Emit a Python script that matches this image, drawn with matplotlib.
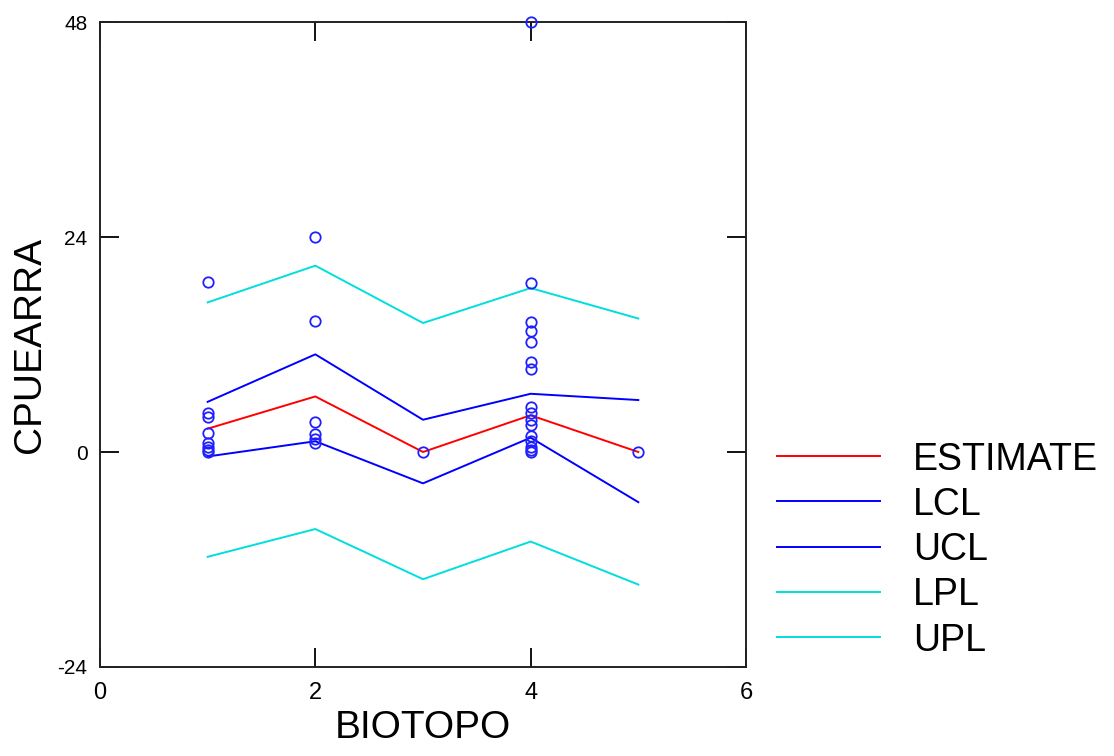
import matplotlib
matplotlib.use("Agg")
import matplotlib.pyplot as plt
from matplotlib.lines import Line2D

plt.rcParams['font.family'] = ['Liberation Sans', 'DejaVu Sans']
plt.rcParams['axes.unicode_minus'] = False

# fitted lines per biotopo
biotopo = [1, 2, 3, 4, 5]
estimate = [2.6, 6.2, 0.0, 4.1, 0.0]
lcl = [-0.5, 1.2, -3.5, 1.6, -5.6]
ucl = [5.6, 10.9, 3.6, 6.5, 5.8]
lpl = [-11.7, -8.6, -14.2, -10.0, -14.8]
upl = [16.7, 20.8, 14.4, 18.3, 14.9]

# observed CPUE values
obs_x1 = [19.0, 4.3, 3.9, 2.1, 1.0, 0.6, 0.2, 0.0]
obs_x2 = [24.0, 14.6, 3.3, 2.0, 1.5, 1.0]
obs_x3 = [0.0]
obs_x4 = [48.0, 18.9, 14.5, 13.5, 12.3, 10.0, 9.3, 5.0, 4.3, 3.6, 3.0,
          1.8, 1.2, 0.6, 0.2, 0.0]
obs_x5 = [0.0]

W, H = 1114, 756
fig = plt.figure(figsize=(W / 100, H / 100), dpi=100)
ax = fig.add_axes([100 / W, 1 - 667 / H, 646 / W, 645 / H])

series = [("ESTIMATE", estimate, "#ff0000"),
          ("LCL", lcl, "#0000ff"),
          ("UCL", ucl, "#0000ff"),
          ("LPL", lpl, "#00dede"),
          ("UPL", upl, "#00dede")]
for name, vals, col in series:
    ax.plot(biotopo, vals, color=col, lw=1.4)

for xv, ys in zip(biotopo, [obs_x1, obs_x2, obs_x3, obs_x4, obs_x5]):
    ax.plot([xv] * len(ys), ys, linestyle="none", marker="o", ms=7.5,
            mfc="none", mec="#2020ff", mew=1.3, clip_on=False, zorder=5)

ax.set_xlim(0, 6)
ax.set_ylim(-24, 48)
ax.set_xticks([0, 2, 4, 6])
ax.set_yticks([-24, 0, 24, 48])
ax.tick_params(direction="in", length=14, width=1.3, top=True, right=True)
ax.tick_params(axis="x", labelsize=17, pad=11)
ax.tick_params(axis="y", labelsize=15, pad=9)
for s in ax.spines.values():
    s.set_linewidth(1.4)
    s.set_color("#222222")

ax.set_xlabel("BIOTOPO", fontsize=28)
ax.set_ylabel("CPUEARRA", fontsize=28)
ax.xaxis.set_label_coords(0.5, -0.066)
ax.yaxis.set_label_coords(-0.08, 0.5)

# legend drawn at the right of the plot
for i, (name, vals, col) in enumerate(series):
    yp = 456 + i * 45.3
    fig.add_artist(Line2D([777 / W, 880 / W], [1 - yp / H] * 2, color=col, lw=1.4))
    fig.text(913 / W, 1 - (yp + 13.5) / H, name, fontsize=27, va="baseline")

fig.savefig("out.png", dpi=100)
